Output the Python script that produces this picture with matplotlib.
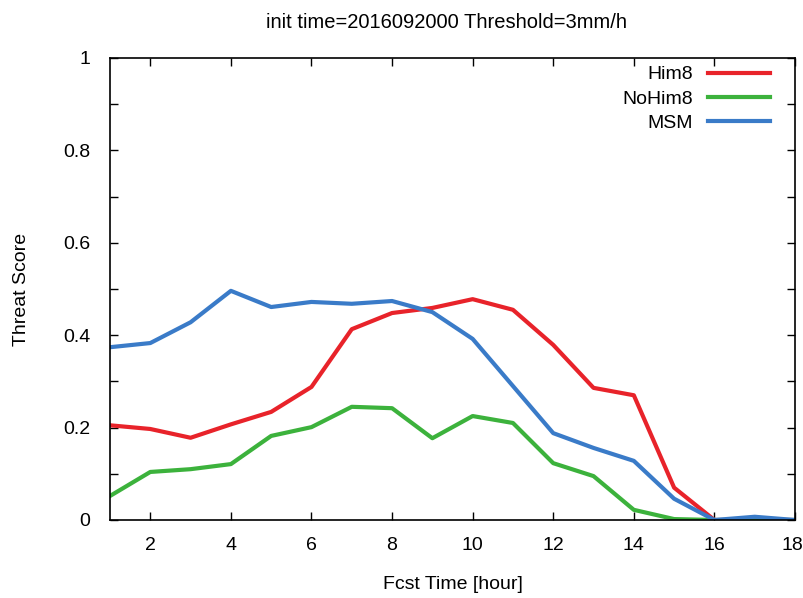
import matplotlib.pyplot as plt
from matplotlib.transforms import ScaledTranslation

plt.rcParams['font.family'] = ['Liberation Sans', 'DejaVu Sans']

# forecast hours
fcst_hour = list(range(1, 19))

# threat scores
him8 = [0.205, 0.197, 0.178, 0.207, 0.234, 0.288, 0.413, 0.448, 0.459,
        0.478, 0.455, 0.379, 0.286, 0.270, 0.070, 0.0, 0.0, 0.0]
nohim8 = [0.052, 0.104, 0.110, 0.121, 0.182, 0.201, 0.245, 0.242, 0.177,
          0.225, 0.210, 0.123, 0.095, 0.022, 0.002, 0.0, 0.0, 0.0]
msm = [0.374, 0.383, 0.428, 0.496, 0.461, 0.472, 0.468, 0.474, 0.450,
       0.392, 0.290, 0.188, 0.156, 0.128, 0.046, 0.0, 0.007, 0.0]

fig = plt.figure(figsize=(8.04, 5.98), dpi=100)
ax = fig.add_axes([110/804, 1-520/598, 685/804, 462/598])

ax.plot(fcst_hour, him8, color='#e8232a', lw=3, label='Him8')
ax.plot(fcst_hour, nohim8, color='#3cb23c', lw=3, label='NoHim8')
ax.plot(fcst_hour, msm, color='#3a7bc8', lw=3, label='MSM')

ax.set_xlim(1, 18)
ax.set_ylim(0, 1)
ax.set_xticks(range(2, 19, 2))
ax.set_yticks([0, 0.2, 0.4, 0.6, 0.8, 1])
ax.set_yticklabels(['0', '0.2', '0.4', '0.6', '0.8', '1'])
ax.set_yticks([0.1, 0.3, 0.5, 0.7, 0.9], minor=True)
ax.tick_params(which='both', direction='in', top=True, right=True,
               length=6, width=1, labelsize=14)
ax.tick_params(axis='y', pad=14)
ax.tick_params(axis='x', pad=12)
for s in ax.spines.values():
    s.set_linewidth(1.2)

# last x label sits at the figure edge, nudge it in a bit
lab = ax.get_xticklabels()[-1]
lab.set_transform(lab.get_transform() + ScaledTranslation(-3/100, 0, fig.dpi_scale_trans))

ax.set_xlabel('Fcst Time [hour]', fontsize=14, labelpad=16)
ax.set_ylabel('Threat Score', fontsize=14, labelpad=24)
fig.text(447/804, 1-22/598, 'init time=2016092000 Threshold=3mm/h',
         ha='center', va='center', fontsize=14.5)

ax.legend(loc='upper right', bbox_to_anchor=(0.975, 1.0), frameon=False,
          markerfirst=False, fontsize=14, handlelength=3.2,
          labelspacing=0.34, borderaxespad=0, handletextpad=0.75)

plt.savefig('out.png', dpi=100)
